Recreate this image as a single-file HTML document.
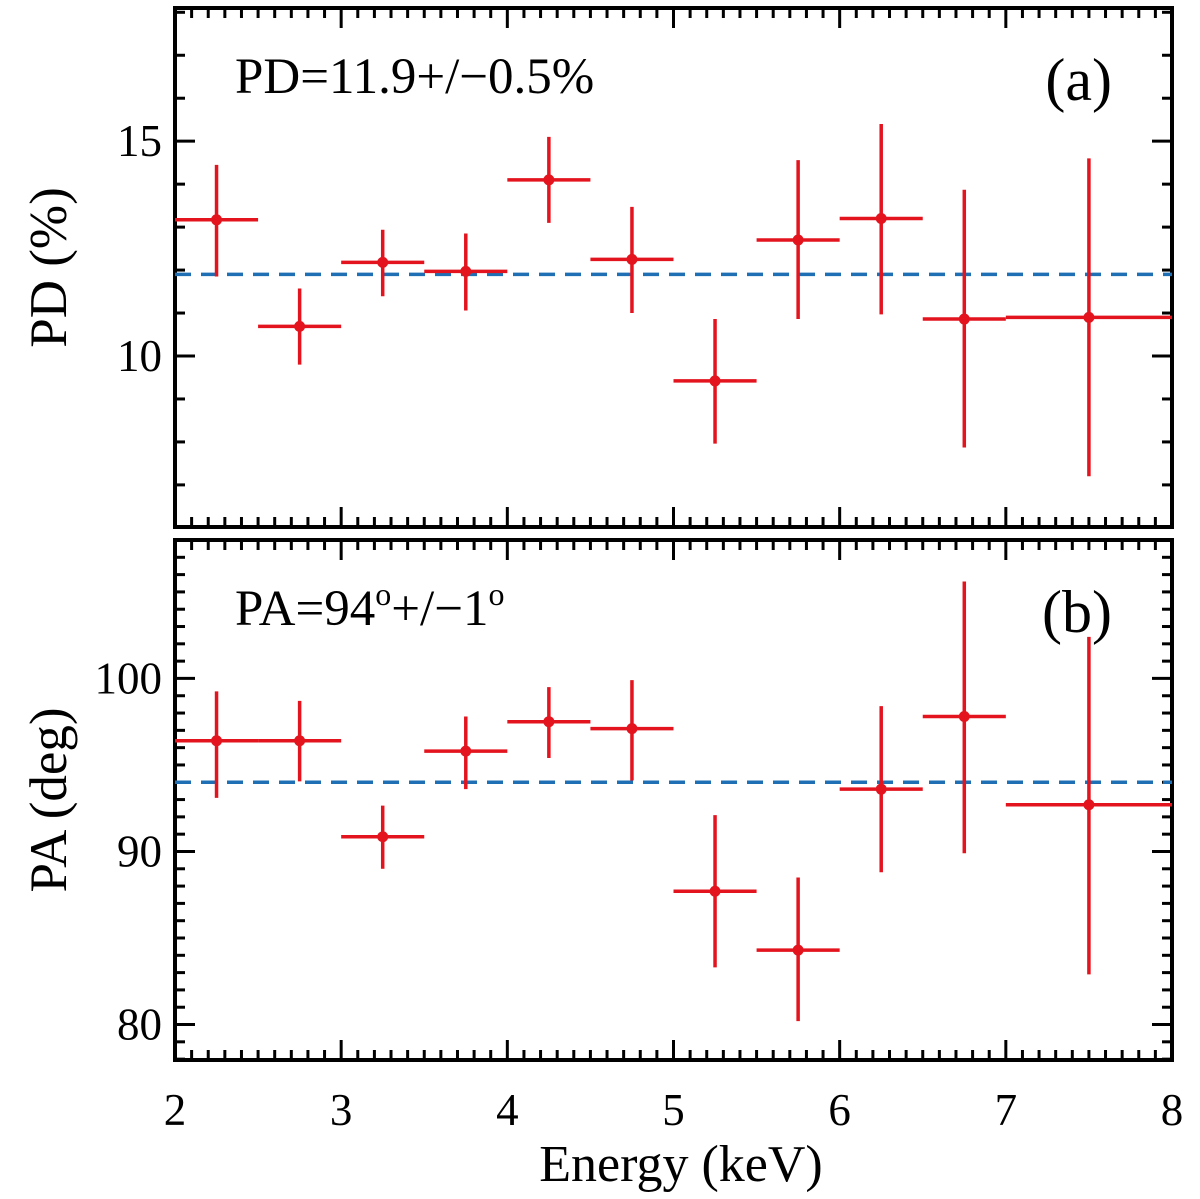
<!DOCTYPE html>
<html><head><meta charset="utf-8"><style>
html,body{margin:0;padding:0;background:#fff;}
svg{display:block;font-family:"Liberation Serif",serif;}
</style></head><body>
<svg id="chart" width="1200" height="1199" viewBox="0 0 1200 1199" xmlns="http://www.w3.org/2000/svg"></svg>
<script>
const energyCenters=[2.25,2.75,3.25,3.75,4.25,4.75,5.25,5.75,6.25,6.75,7.5];
const energyHalfWidths=[0.25,0.25,0.25,0.25,0.25,0.25,0.25,0.25,0.25,0.25,0.5];
const pdValues=[13.17,10.69,12.18,11.97,14.1,12.25,9.42,12.7,13.2,10.86,10.9];
const pdUpper=[14.45,11.57,12.94,12.85,15.1,13.47,10.86,14.56,15.4,13.87,14.6];
const pdLower=[11.85,9.8,11.39,11.06,13.1,11.0,7.96,10.86,10.97,7.87,7.2];
const paValues=[96.4,96.4,90.85,95.8,97.5,97.1,87.7,84.3,93.6,97.8,92.7];
const paUpper=[99.25,98.7,92.65,97.8,99.5,99.9,92.1,88.5,98.4,105.6,102.4];
const paLower=[93.1,94.05,89.0,93.6,95.4,94.1,83.3,80.2,88.8,89.9,82.9];
const pdMean=11.9, paMean=94;
const xTicks=[2,3,4,5,6,7,8];
const pdTicks=[10,15];
const paTicks=[80,90,100];

const svg=document.getElementById('chart');
const NS='http://www.w3.org/2000/svg';
function mk(tag,attrs,parent){const e=document.createElementNS(NS,tag);for(const k in attrs)e.setAttribute(k,attrs[k]);(parent||svg).appendChild(e);return e;}
const X0=175,X1=1172;
const xs=v=>X0+(v-2)/6*(X1-X0);

const panels=[
 {name:'pd',top:8,bot:527,min:6.02,max:18.1,vals:pdValues,up:pdUpper,lo:pdLower,mean:pdMean,ticks:pdTicks,minorStep:1,title:'PD (%)',label:'(a)',note:'PD=11.9+/\u22120.5%'},
 {name:'pa',top:540,bot:1060,min:77.95,max:108.0,vals:paValues,up:paUpper,lo:paLower,mean:paMean,ticks:paTicks,minorStep:1,title:'PA (deg)',label:'(b)',note:null}
];
panels.forEach((p,pi)=>{
 const ys=v=>p.bot-(v-p.min)/(p.max-p.min)*(p.bot-p.top);
 const g=mk('g',{});
 
 
 for(let i=0;i<=60;i++){const v=2+i*0.1;const x=xs(v);const major=i%10===0;const L=major?20:10;
  mk('line',{x1:x,x2:x,y1:p.bot,y2:p.bot-L,stroke:'#000','stroke-width':3},g);
  mk('line',{x1:x,x2:x,y1:p.top,y2:p.top+L,stroke:'#000','stroke-width':3},g);}
 for(let v=Math.ceil(p.min);v<=p.max;v+=p.minorStep){const y=ys(v);const major=(pi===0&&v%5===0)||(pi===1&&v%10===0);const L=major?20:10;
  mk('line',{x1:X0,x2:X0+L,y1:y,y2:y,stroke:'#000','stroke-width':3},g);
  mk('line',{x1:X1,x2:X1-L,y1:y,y2:y,stroke:'#000','stroke-width':3},g);}
 p.ticks.forEach(t=>{const tx=mk('text',{x:X0-13,y:ys(t)+15,'font-size':45,'text-anchor':'end'},g);tx.textContent=t;
  });
 const fr=mk('rect',{x:X0,y:p.top,width:X1-X0,height:p.bot-p.top,fill:'none',stroke:'#000','stroke-width':4},g);
 
 const ml=mk('line',{x1:X0,x2:X1,y1:ys(p.mean),y2:ys(p.mean),stroke:'#1f6fb4','stroke-width':3.5,'stroke-dasharray':'16,10'},g);
 
 energyCenters.forEach((e,i)=>{
  const pg=mk('g',{},g);
  
  mk('line',{x1:xs(e-energyHalfWidths[i]),x2:xs(e+energyHalfWidths[i]),y1:ys(p.vals[i]),y2:ys(p.vals[i]),stroke:'#e3141e','stroke-width':3.5},pg);
  mk('line',{x1:xs(e),x2:xs(e),y1:ys(p.up[i]),y2:ys(p.lo[i]),stroke:'#e3141e','stroke-width':3.5},pg);
  mk('circle',{cx:xs(e),cy:ys(p.vals[i]),r:5.5,fill:'#e3141e'},pg);
 });
 const yt=mk('text',{x:0,y:0,'font-size':53,'text-anchor':'middle',transform:`translate(66,${(p.top+p.bot)/2}) rotate(-90)`},g);
 yt.textContent=p.title;
 const lb=mk('text',{x:1112,y:p.top+92,'font-size':60,'text-anchor':'end'},g);
 lb.textContent=p.label;
 if(p.note){const n=mk('text',{x:235,y:p.top+85,'font-size':51},g);n.textContent=p.note;
  }
 else{const n=mk('text',{x:235,y:p.top+85,'font-size':51},g);
  n.innerHTML='PA=94<tspan dy="-20" font-size="32">o</tspan><tspan dy="20">+/\u22121</tspan><tspan dy="-20" font-size="32">o</tspan>';
  }
});
xTicks.forEach(t=>{const tx=mk('text',{x:xs(t),y:1125,'font-size':45,'text-anchor':'middle'});tx.textContent=t;
 });
const xt=mk('text',{x:681,y:1181,'font-size':52,'text-anchor':'middle'});xt.textContent='Energy (keV)';

</script>
</body></html>
